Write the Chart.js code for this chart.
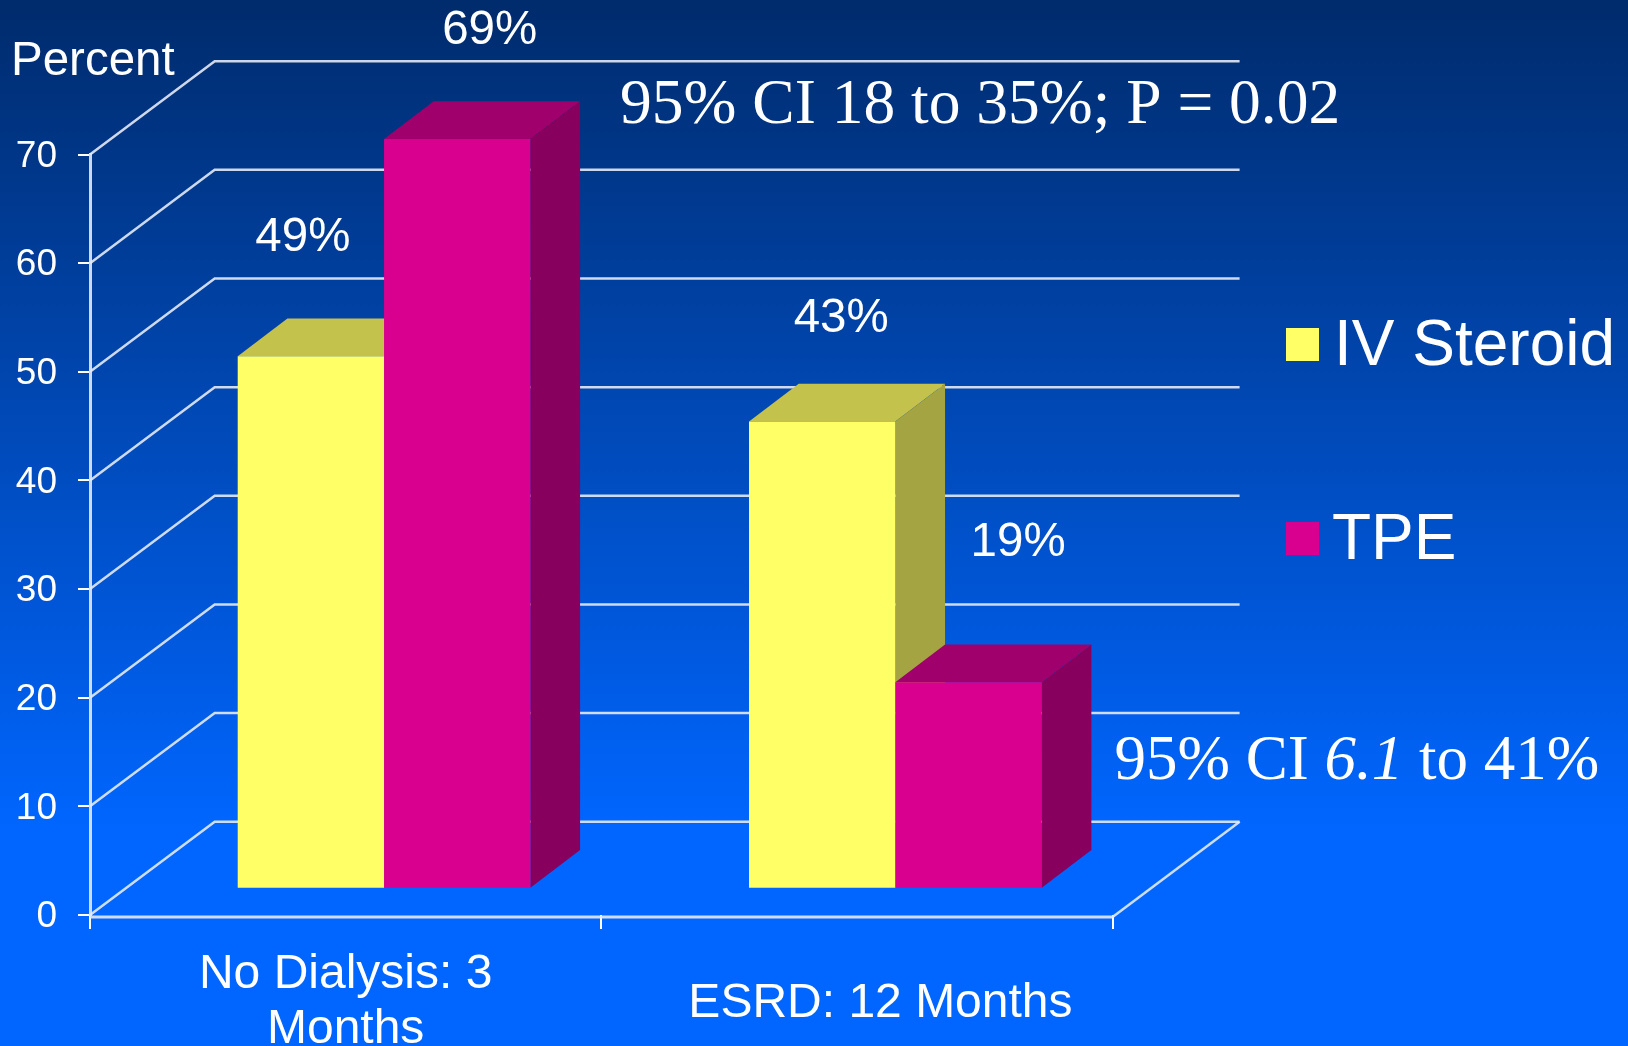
<!DOCTYPE html>
<html>
<head>
<meta charset="utf-8">
<title>Renal outcome: IV Steroid vs TPE</title>
<script src="https://cdn.jsdelivr.net/npm/chart.js@4"></script>
<style>
    html, body { margin: 0; padding: 0; }
    canvas { display: block; }
</style>
</head>
<body>
<canvas id="outcomeChart" width="1628" height="1046"></canvas>
<script>
const categories = [['No Dialysis: 3', 'Months'], 'ESRD: 12 Months'];
const ivSteroid = [49, 43];
const tpe = [69, 19];
const seriesNames = ['IV Steroid', 'TPE'];
const axisTitle = 'Percent';
const ciTop = '95% CI 18 to 35%; P = 0.02';
const ciBottom = [['95% CI ', ''], ['6.1', 'italic'], [' to 41%', '']];

const WHITE = '#ffffff';
const LINE = 'rgba(228,234,246,0.9)';
const SANS = '"Liberation Sans", Arial, sans-serif';
const SERIF = '"Liberation Serif", "Times New Roman", serif';

// 3D look: colours per series, wall depth, bar depth, and how far the bars sit from the front edge
const barColors = ['#ffff66', '#d9008f'];
const topColors = ['#c2c24d', '#a0006c'];
const sideColors = ['#a4a443', '#88005d'];
const wall = { dx: 124.7, dxRight: 127, dy: -93.3 };
const barDepth = { dx: 49.7, dy: -37.8 };
const barShift = { dx: 38.4, dy: -26.3 };

// label nudges relative to the top centre of each shifted bar
const valueNudge = [
    [[-8, -105.5], [19, -89.5]],
    [[32.5, -95.5], [49.6, -126]]
];
const categoryNudge = [0, 23.5];

function text(ctx, str, x, y, font, align) {
    ctx.font = font;
    ctx.fillStyle = WHITE;
    ctx.textAlign = align || 'left';
    ctx.textBaseline = 'alphabetic';
    ctx.fillText(str, x, y);
}

function polygon(ctx, pts, color) {
    ctx.fillStyle = color;
    ctx.beginPath();
    pts.forEach((p, i) => i ? ctx.lineTo(p[0], p[1]) : ctx.moveTo(p[0], p[1]));
    ctx.closePath();
    ctx.fill();
}

const pseudo3d = {
    id: 'pseudo3d',
    beforeDraw(chart) {
        const { ctx, width, height } = chart;
        const bg = ctx.createLinearGradient(0, 0, 0, 830);
        bg.addColorStop(0, '#002b6c');
        bg.addColorStop(1, '#0066ff');
        ctx.fillStyle = bg;
        ctx.fillRect(0, 0, width, height);
    },
    // wall lines, floor and bars. Chart.js paints the first dataset last, here TPE has to
    // overlap IV Steroid so the datasets are painted by hand and the default pass is cancelled
    beforeDatasetsDraw(chart) {
        const { ctx, scales, chartArea } = chart;
        const { left, right, bottom } = chartArea;
        ctx.save();
        ctx.strokeStyle = LINE;
        ctx.lineWidth = 2.5;
        scales.y.ticks.forEach(t => {
            const y = scales.y.getPixelForValue(t.value);
            ctx.beginPath();
            ctx.moveTo(left, y);
            ctx.lineTo(left + wall.dx, y + wall.dy);
            ctx.lineTo(right + wall.dxRight, y + wall.dy);
            ctx.stroke();
        });
        ctx.beginPath();
        ctx.moveTo(right + wall.dxRight, bottom + wall.dy);
        ctx.lineTo(right, bottom + 2);
        ctx.stroke();
        ctx.lineWidth = 3;
        ctx.beginPath();
        ctx.moveTo(left, bottom + 2);
        ctx.lineTo(right, bottom + 2);
        ctx.stroke();
        ctx.restore();

        chart.data.datasets.forEach((ds, i) => {
            const meta = chart.getDatasetMeta(i);
            ctx.save();
            ctx.translate(barShift.dx, barShift.dy);
            meta.data.forEach(bar => {
                const l = bar.x - bar.width / 2, r = bar.x + bar.width / 2;
                const d = barDepth;
                polygon(ctx, [[l, bar.y], [l + d.dx, bar.y + d.dy], [r + d.dx, bar.y + d.dy], [r, bar.y]], topColors[i]);
                polygon(ctx, [[r, bar.y], [r + d.dx, bar.y + d.dy], [r + d.dx, bar.base + d.dy], [r, bar.base]], sideColors[i]);
            });
            meta.controller.draw();
            ctx.restore();
        });
        return false;
    },
    afterDraw(chart) {
        const { ctx, scales } = chart;
        ctx.save();

        chart.data.datasets.forEach((ds, i) => {
            chart.getDatasetMeta(i).data.forEach((bar, j) => {
                const n = valueNudge[i][j];
                text(ctx, ds.data[j] + '%', bar.x + barShift.dx + n[0], bar.y + barShift.dy + n[1], '47.5px ' + SANS, 'center');
            });
        });

        // category labels
        categories.forEach((label, i) => {
            const x = scales.x.getPixelForValue(i) + categoryNudge[i];
            if (Array.isArray(label)) {
                text(ctx, label[0], x, 988, '48px ' + SANS, 'center');
                text(ctx, label[1], x, 1043, '48px ' + SANS, 'center');
            } else {
                text(ctx, label, x, 1017, '48px ' + SANS, 'center');
            }
        });

        text(ctx, axisTitle, 11, 75, '47.5px ' + SANS);

        // legend
        [[328, 364.5, 1334], [522, 558.5, 1332]].forEach((pos, i) => {
            ctx.fillStyle = barColors[i];
            ctx.fillRect(1286, pos[0], 33, 33);
            text(ctx, seriesNames[i], pos[2], pos[1], '64px ' + SANS);
        });

        // confidence interval notes
        text(ctx, ciTop, 620, 123, '63.5px ' + SERIF);
        let x = 1114.5;
        ciBottom.forEach(run => {
            const font = (run[1] ? run[1] + ' ' : '') + '63px ' + SERIF;
            text(ctx, run[0], x, 779, font);
            x += ctx.measureText(run[0]).width;
        });

        ctx.restore();
    }
};

new Chart(document.getElementById('outcomeChart'), {
    type: 'bar',
    data: {
        labels: categories,
        datasets: [
            { label: seriesNames[0], data: ivSteroid, backgroundColor: barColors[0], clip: false },
            { label: seriesNames[1], data: tpe, backgroundColor: barColors[1], clip: false }
        ]
    },
    options: {
        responsive: false,
        animation: false,
        barPercentage: 1,
        categoryPercentage: 0.5724,
        layout: { padding: { top: 154.5, right: 515.4, left: 0, bottom: 0 } },
        plugins: { legend: { display: false }, tooltip: { enabled: false } },
        scales: {
            x: {
                afterFit(scale) { scale.height = 131; },
                border: { display: false },
                grid: { color: WHITE, lineWidth: 2, drawOnChartArea: false, tickLength: 14, offset: true },
                ticks: { display: false }
            },
            y: {
                min: 0,
                max: 70,
                afterFit(scale) { scale.width = 90; },
                border: { color: LINE, width: 3 },
                grid: { color: WHITE, lineWidth: 2, drawOnChartArea: false, tickLength: 12 },
                ticks: { stepSize: 10, color: WHITE, padding: 21, labelOffset: 2, font: { family: SANS, size: 37 } }
            }
        }
    },
    plugins: [pseudo3d]
});
</script>
</body>
</html>
